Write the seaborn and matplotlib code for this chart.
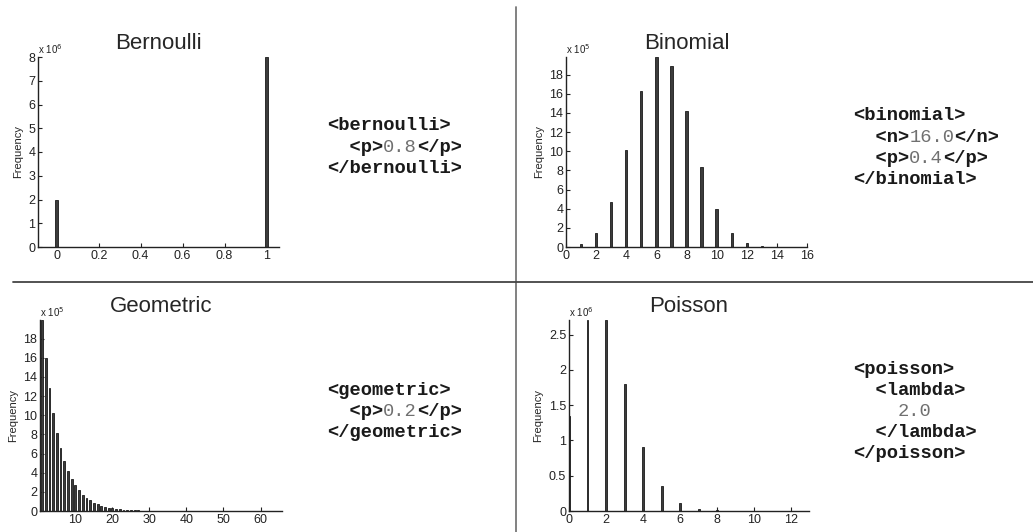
import matplotlib
matplotlib.use('Agg')
import matplotlib.pyplot as plt
import seaborn as sns
import pandas as pd

# values (counts out of 1e7 samples)
bern_x = [0, 1]
bern_y = [2.0e6, 8.0e6]

binom_x = list(range(0, 17))
binom_y = [2.8e3, 3.0e4, 1.50e5, 4.68e5, 1.014e6, 1.623e6, 1.983e6, 1.889e6, 1.417e6,
           8.40e5, 3.92e5, 1.42e5, 3.96e4, 8.1e3, 1.2e3, 1.0e2, 4]

geom_x = list(range(1, 61))
geom_y = [1.995e6, 1.60e6, 1.28e6, 1.024e6, 8.19e5, 6.55e5, 5.24e5, 4.19e5, 3.36e5, 2.68e5,
          2.15e5, 1.72e5, 1.37e5, 1.10e5, 8.8e4, 7.0e4, 5.6e4, 4.5e4, 3.6e4, 2.9e4,
          2.3e4, 1.85e4, 1.48e4, 1.18e4, 9.4e3, 7.6e3, 6.0e3, 4.8e3, 3.9e3, 3.1e3,
          2.5e3, 2.0e3, 1.6e3, 1.3e3, 1.0e3, 8.0e2, 6.5e2, 5.2e2, 4.1e2, 3.3e2,
          2.6e2, 2.1e2, 1.7e2, 1.4e2, 1.1e2, 90, 70, 55, 45, 36,
          29, 23, 18, 15, 12, 9, 7, 6, 5, 4]

pois_x = list(range(0, 13))
pois_y = [1.353e6, 2.707e6, 2.707e6, 1.804e6, 9.02e5, 3.61e5, 1.20e5, 3.44e4, 8.6e3,
          1.9e3, 3.8e2, 70, 12]

titles = ['Bernoulli', 'Binomial', 'Geometric', 'Poisson']

# xml snippets: (text, bold) segments per line
bern_xml = [[('<bernoulli>', True)],
            [('  <p>', True), ('0.8', False), ('</p>', True)],
            [('</bernoulli>', True)]]
binom_xml = [[('<binomial>', True)],
             [('  <n>', True), ('16.0', False), ('</n>', True)],
             [('  <p>', True), ('0.4', False), ('</p>', True)],
             [('</binomial>', True)]]
geom_xml = [[('<geometric>', True)],
            [('  <p>', True), ('0.2', False), ('</p>', True)],
            [('</geometric>', True)]]
pois_xml = [[('<poisson>', True)],
            [('  <lambda>', True)],
            [('    ', True), ('2.0', False)],
            [('  </lambda>', True)],
            [('</poisson>', True)]]

sns.set_style('ticks')
plt.rcParams['font.family'] = ['Liberation Sans', 'DejaVu Sans']
plt.rcParams['xtick.direction'] = 'in'
plt.rcParams['ytick.direction'] = 'in'
plt.rcParams['xtick.major.size'] = 3
plt.rcParams['ytick.major.size'] = 3

W, H = 1033, 532
fig = plt.figure(figsize=(W / 100, H / 100), dpi=100)


def add_axes_px(left, top, right, bottom):
    return fig.add_axes([left / W, 1 - bottom / H, (right - left) / W, (bottom - top) / H])


def hist_panel(ax, xs, ys, width, title, xlim, ylim, xticks, xlabels, yticks, ylabels, exp):
    df = pd.DataFrame({'x': xs, 'y': ys})
    sns.barplot(data=df, x='x', y='y', native_scale=True, width=width, color='#3c3c3c',
                edgecolor='#1a1a1a', linewidth=0.6, saturation=1, ax=ax)
    ax.set_xlim(*xlim)
    ax.set_ylim(*ylim)
    ax.set_xticks(xticks)
    ax.set_xticklabels(xlabels, fontsize=9)
    ax.set_yticks(yticks)
    ax.set_yticklabels(ylabels, fontsize=9)
    ax.set_xlabel('')
    ax.set_ylabel('Frequency', fontsize=8, labelpad=4)
    ax.set_title(title, fontsize=16, pad=6)
    ax.text(0.0, 1.005, 'x 10$^{%d}$' % exp, transform=ax.transAxes, fontsize=7,
            ha='left', va='bottom', color='#222222')
    sns.despine(ax=ax)
    for s in ['left', 'bottom']:
        ax.spines[s].set_linewidth(1.0)
        ax.spines[s].set_color('#222222')
    ax.tick_params(colors='#222222', pad=2, width=0.8)
    ax.patch.set_alpha(0)


ax1 = add_axes_px(38, 57, 279, 247)
hist_panel(ax1, bern_x, bern_y, 0.014, titles[0], (-0.09, 1.06), (0, 8e6),
           [0, 0.2, 0.4, 0.6, 0.8, 1], ['0', '0.2', '0.4', '0.6', '0.8', '1'],
           [i * 1e6 for i in range(9)], [str(i) for i in range(9)], 6)

ax2 = add_axes_px(566, 57, 807, 247)
hist_panel(ax2, binom_x, binom_y, 0.15, titles[1], (0, 16), (0, 1.983e6),
           list(range(0, 17, 2)), [str(i) for i in range(0, 17, 2)],
           [i * 1e5 for i in range(0, 19, 2)], [str(i) for i in range(0, 19, 2)], 5)

ax3 = add_axes_px(40, 320, 282, 511)
hist_panel(ax3, geom_x, geom_y, 0.5, titles[2], (0.45, 65.8), (0, 1.995e6),
           list(range(10, 61, 10)), [str(i) for i in range(10, 61, 10)],
           [i * 1e5 for i in range(0, 19, 2)], [str(i) for i in range(0, 19, 2)], 5)

ax4 = add_axes_px(569, 320, 809, 511)
hist_panel(ax4, pois_x, pois_y, 0.1, titles[3], (0, 12.95), (0, 2.707e6),
           list(range(0, 13, 2)), [str(i) for i in range(0, 13, 2)],
           [0, 0.5e6, 1e6, 1.5e6, 2e6, 2.5e6], ['0', '0.5', '1', '1.5', '2', '2.5'], 6)

# xml text blocks
FS = 13.5
CW = 0.6 * FS * 100 / 72  # monospace char width in px


def xml_block(lines, x0, y0, step):
    for i, line in enumerate(lines):
        col = 0
        for txt, bold in line:
            fig.text((x0 + col * CW) / W, 1 - (y0 + i * step) / H, txt,
                     family='Liberation Mono', fontsize=FS,
                     weight='bold' if bold else 'normal',
                     color='#1a1a1a' if bold else '#707070',
                     ha='left', va='baseline')
            col += len(txt)


xml_block(bern_xml, 327, 130, 21.5)
xml_block(binom_xml, 853, 120, 21.5)
xml_block(geom_xml, 327, 395, 21)
xml_block(pois_xml, 853, 374, 21)

# panel dividers
fig.add_artist(plt.Line2D([516 / W, 516 / W], [0, 1 - 7 / H], transform=fig.transFigure,
                          color='#777777', lw=1.3))
fig.add_artist(plt.Line2D([13 / W, 1], [1 - 282 / H, 1 - 282 / H], transform=fig.transFigure,
                          color='#444444', lw=1.3))

fig.savefig('out.png', dpi=100)
